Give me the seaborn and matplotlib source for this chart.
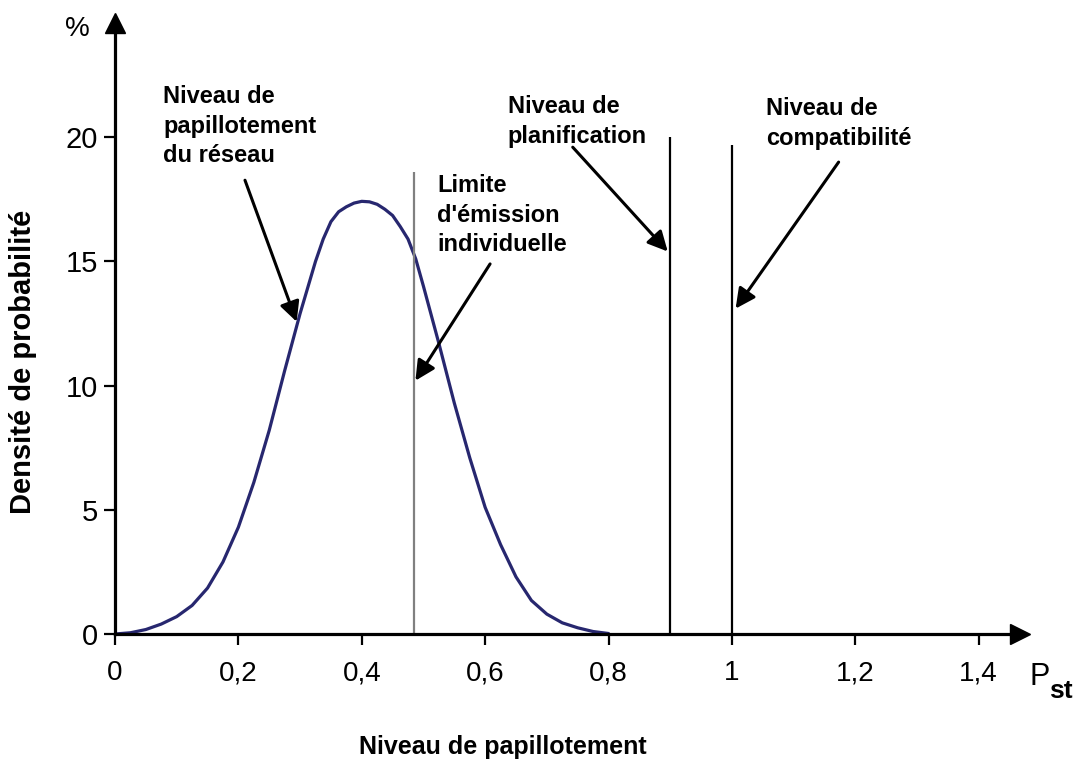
import pandas as pd
import matplotlib
matplotlib.use("Agg")
import matplotlib.pyplot as plt
import seaborn as sns

# curve (Pst, density in %)
pst = [0, 0.025, 0.05, 0.075, 0.1, 0.125, 0.15, 0.175, 0.2, 0.225, 0.25, 0.275,
       0.3, 0.325, 0.3375, 0.35, 0.3625, 0.375, 0.3875, 0.4, 0.4125, 0.425, 0.4375,
       0.45, 0.4625, 0.475, 0.4875, 0.5, 0.525, 0.55, 0.575,
       0.6, 0.625, 0.65, 0.675, 0.7, 0.725, 0.75, 0.775, 0.8]
density = [0, 0.05, 0.18, 0.4, 0.7, 1.15, 1.85, 2.9, 4.3, 6.1, 8.2, 10.6,
           12.9, 15.0, 15.9, 16.6, 17.0, 17.2, 17.35, 17.42, 17.4, 17.3, 17.1,
           16.85, 16.4, 15.9, 15.1, 14.0, 11.7, 9.3, 7.1,
           5.1, 3.6, 2.3, 1.35, 0.8, 0.45, 0.25, 0.1, 0.02]

# vertical levels: emission limit, planning level, compatibility level
level_x = [0.485, 0.9, 1.0]
level_top = [18.6, 20.0, 19.7]
level_colors = ["#808080", "black", "black"]

x_ticks = [0, 0.2, 0.4, 0.6, 0.8, 1.0, 1.2, 1.4]
x_labels = ["0", "0,2", "0,4", "0,6", "0,8", "1", "1,2", "1,4"]
y_ticks = [0, 5, 10, 15, 20]
y_labels = ["0", "5", "10", "15", "20"]

df = pd.DataFrame({"Pst": pst, "Densite": density})

sns.set_style("white")
plt.rcParams["font.family"] = ["Liberation Sans", "DejaVu Sans"]
plt.rcParams["text.color"] = "black"
plt.rcParams["axes.labelcolor"] = "black"
plt.rcParams["xtick.color"] = "black"
plt.rcParams["ytick.color"] = "black"

fig = plt.figure(figsize=(10.81, 7.6), dpi=100)
ax = fig.add_axes([115 / 1081, 126 / 760, 905 / 1081, 611 / 760])

sns.lineplot(data=df, x="Pst", y="Densite", ax=ax, color="#27276f", linewidth=2.3)

for x, top, c in zip(level_x, level_top, level_colors):
    ax.vlines(x, 0, top, color=c, linewidth=1.6)

ax.set_xlim(0, 1.467)
ax.set_ylim(0, 24.6)

# axes with arrow heads
for s in ["top", "right"]:
    ax.spines[s].set_visible(False)
for s in ["left", "bottom"]:
    ax.spines[s].set_linewidth(2.3)
    ax.spines[s].set_color("black")
ax.plot(0, 1, marker="^", markersize=15, color="black", transform=ax.transAxes, clip_on=False)
ax.plot(1, 0, marker=">", markersize=15, color="black", transform=ax.transAxes, clip_on=False)

ax.set_xticks(x_ticks)
ax.set_xticklabels(x_labels, fontsize=20)
ax.set_yticks(y_ticks)
ax.set_yticklabels(y_labels, fontsize=21)
ax.tick_params(axis="x", direction="out", length=8, width=1.6, pad=11, bottom=True)
ax.tick_params(axis="y", direction="out", length=8, width=1.6, pad=4, left=True)

ax.set_xlabel("Niveau de papillotement", fontsize=18, fontweight="bold")
ax.xaxis.set_label_coords(0.4287, -0.166)
ax.set_ylabel("Densité de probabilité", fontsize=21, fontweight="bold")
ax.yaxis.set_label_coords(-0.086, 0.445)

ax.text(-0.042, 0.99, "%", transform=ax.transAxes, fontsize=20, ha="center", va="center")
ax.text(1.022, -0.0696, "P", transform=ax.transAxes, fontsize=22, ha="center", va="center")
ax.text(1.045, -0.0933, "st", transform=ax.transAxes, fontsize=19, fontweight="bold",
        ha="center", va="center")

# annotations
notes = [
    ("Niveau de\npapillotement\ndu réseau", (0.078, 22.09), (0.2107, 18.27), (0.2945, 12.57)),
    ("Limite\nd'émission\nindividuelle", (0.522, 18.51), (0.608, 14.9), (0.487, 10.2)),
    ("Niveau de\nplanification", (0.637, 21.69), (0.742, 19.6), (0.896, 15.4)),
    ("Niveau de\ncompatibilité", (1.055, 21.61), (1.173, 19.0), (1.006, 13.1)),
]
for label, txt_pos, start, end in notes:
    ax.text(txt_pos[0], txt_pos[1], label, fontsize=17, fontweight="bold",
            ha="left", va="top", linespacing=1.35)
    ax.annotate("", xy=end, xytext=start,
                arrowprops=dict(arrowstyle="-|>,head_length=0.6,head_width=0.3",
                                color="black", lw=2.2, mutation_scale=20,
                                shrinkA=0, shrinkB=0))

fig.savefig("out.png", dpi=100)
